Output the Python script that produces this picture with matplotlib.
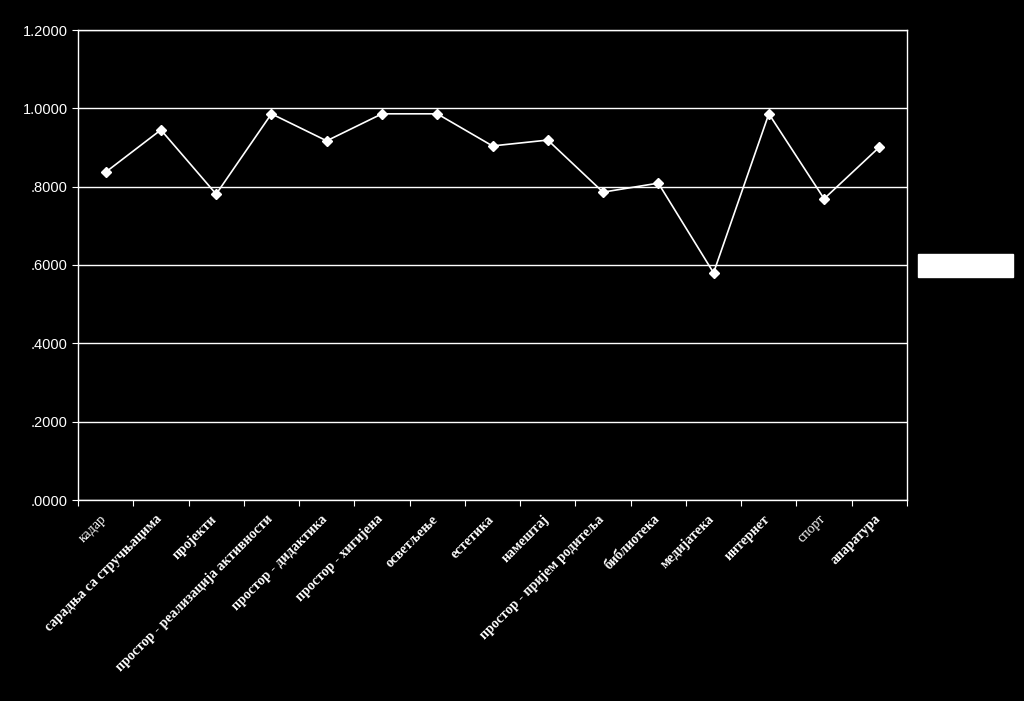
import matplotlib.pyplot as plt
from matplotlib.patches import Rectangle

# категорије и вредности
categories = ["кадар", "сарадња са стручњацима", "пројекти",
              "простор - реализација активности", "простор - дидактика",
              "простор - хигијена", "осветљење", "естетика", "намештај",
              "простор - пријем родитеља", "библиотека", "медијатека",
              "интернет", "спорт", "апаратура"]
values = [0.837, 0.945, 0.781, 0.986, 0.917, 0.986, 0.986, 0.904, 0.919,
          0.786, 0.809, 0.580, 0.986, 0.769, 0.901]
y_ticks = [0.0, 0.2, 0.4, 0.6, 0.8, 1.0, 1.2]
y_labels = [".0000", ".2000", ".4000", ".6000", ".8000", "1.0000", "1.2000"]

fig = plt.figure(figsize=(10.24, 7.01), dpi=100, facecolor="black")
ax = fig.add_axes([78 / 1024, 1 - 500 / 701, 829 / 1024, 470 / 701])
ax.set_facecolor("black")

x = list(range(len(categories)))
ax.plot(x, values, "-", color="white", lw=1.2, marker="D", markersize=5,
        markerfacecolor="white", markeredgecolor="white", zorder=3)

ax.set_xlim(-0.5, len(categories) - 0.5)
ax.set_ylim(0, 1.2)
ax.set_yticks(y_ticks)
ax.set_yticklabels(y_labels, fontsize=10.5, color="white", family="Liberation Sans")
ax.grid(axis="y", color="white", lw=1)
ax.set_axisbelow(True)

# ознаке на x оси (између категорија)
ax.set_xticks([i - 0.5 for i in range(len(categories) + 1)])
ax.set_xticklabels([])
ax.set_xticks([i - 0.1 for i in x], minor=True)
lbls = ax.set_xticklabels(categories, minor=True, rotation=45, ha="right", va="top",
                          rotation_mode="anchor", fontsize=10, color="white",
                          family="Liberation Serif", fontweight="bold")
for t in lbls:
    if t.get_text() in ("кадар", "спорт"):
        t.set_fontweight("normal")
ax.tick_params(axis="x", which="minor", length=0, pad=9)
ax.tick_params(axis="both", which="major", colors="white", length=4, direction="out")

for s in ax.spines.values():
    s.set_color("white")
    s.set_linewidth(1)

# празна легенда
fig.patches.append(Rectangle((918 / 1024, 1 - 277 / 701), 95 / 1024, 23 / 701,
                             transform=fig.transFigure, facecolor="white",
                             edgecolor="white"))

fig.savefig("out.png", dpi=100, facecolor="black")
